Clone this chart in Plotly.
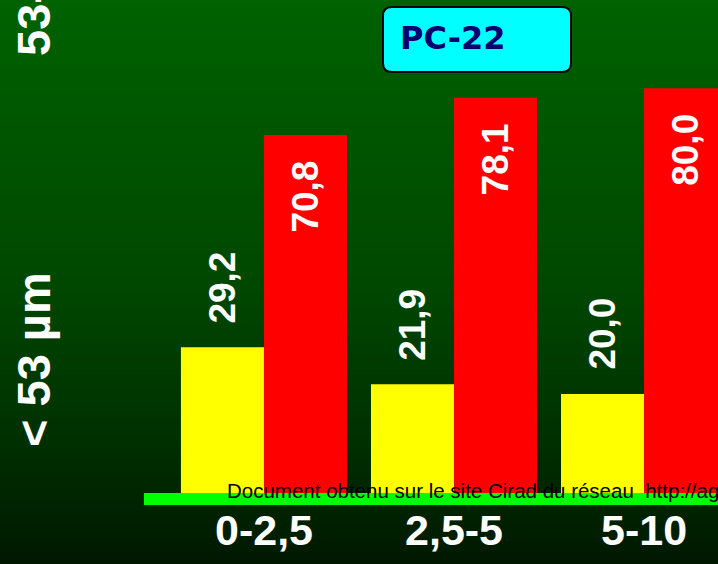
import plotly.graph_objects as go

# Particle-size classes (depth ranges) and fraction shares (%)
categories = ["0-2,5", "2,5-5", "5-10"]
fine_fraction = [29.2, 21.9, 20.0]      # < 53 µm
coarse_fraction = [70.8, 78.1, 80.0]    # 53-2000 µm
value_labels_fine = ["29,2", "21,9", "20,0"]
value_labels_coarse = ["70,8", "78,1", "80,0"]

W, H = 718, 564
BOTTOM = 68                     # space under the plotting area for category labels
X_RANGE = [-1.389, 2.389]
Y_RANGE = [0, 97.3]
BARGAP = 0.126
FONT = "Liberation Sans, Arial, sans-serif"


def px(x):
    return x / W


def py(y):
    return 1 - y / H


fig = go.Figure()
fig.add_trace(go.Bar(x=categories, y=fine_fraction, name="< 53 µm",
                     marker=dict(color="#ffff00", line=dict(width=0))))
fig.add_trace(go.Bar(x=categories, y=coarse_fraction, name="53-2000 µm",
                     marker=dict(color="#ff0000", line=dict(width=0))))

shapes = []

# vertical green gradient background, built from thin bands
stops = [(0, (0, 98, 0)), (280, (0, 72, 0)), (450, (0, 46, 0)), (564, (0, 24, 0))]


def bg_color(y):
    for (y0, c0), (y1, c1) in zip(stops[:-1], stops[1:]):
        if y0 <= y <= y1:
            t = (y - y0) / (y1 - y0)
            return "rgb(%d,%d,%d)" % tuple(round(a + (b - a) * t) for a, b in zip(c0, c1))
    return "rgb(%d,%d,%d)" % stops[-1][1]


band = 3
for y in range(0, H, band):
    shapes.append(dict(type="rect", xref="paper", yref="paper", layer="below",
                       x0=0, x1=1, y0=py(y + band + 0.5), y1=py(y),
                       fillcolor=bg_color(y + band / 2), line=dict(width=0)))

# bright green base line
shapes.append(dict(type="rect", xref="paper", yref="paper", layer="above",
                   x0=px(144), x1=1, y0=py(505), y1=py(493),
                   fillcolor="#00ff00", line=dict(width=0)))

# rounded title box
bx0, bx1, by0, by1, r = 383, 571, 7, 72, 9
path = (f"M {px(bx0 + r)},{py(by0)} L {px(bx1 - r)},{py(by0)} "
        f"Q {px(bx1)},{py(by0)} {px(bx1)},{py(by0 + r)} "
        f"L {px(bx1)},{py(by1 - r)} Q {px(bx1)},{py(by1)} {px(bx1 - r)},{py(by1)} "
        f"L {px(bx0 + r)},{py(by1)} Q {px(bx0)},{py(by1)} {px(bx0)},{py(by1 - r)} "
        f"L {px(bx0)},{py(by0 + r)} Q {px(bx0)},{py(by0)} {px(bx0 + r)},{py(by0)} Z")
shapes.append(dict(type="path", xref="paper", yref="paper", layer="above", path=path,
                   fillcolor="#00ffff", line=dict(color="black", width=2)))

annotations = []

# value labels, rotated, above the yellow bars and inside the top of the red bars
px_per_unit = W / (X_RANGE[1] - X_RANGE[0])
half_bar = (1 - BARGAP) / 2 / 2 * px_per_unit
for cat, v, lab in zip(categories, fine_fraction, value_labels_fine):
    annotations.append(dict(x=cat, y=v, xref="x", yref="y", text=f"<b>{lab}</b>",
                            showarrow=False, textangle=-90, xshift=-half_bar,
                            xanchor="center", yanchor="bottom", yshift=22,
                            font=dict(family=FONT, size=37, color="white")))
for cat, v, lab in zip(categories, coarse_fraction, value_labels_coarse):
    annotations.append(dict(x=cat, y=v, xref="x", yref="y", text=f"<b>{lab}</b>",
                            showarrow=False, textangle=-90, xshift=half_bar,
                            xanchor="center", yanchor="top", yshift=-24,
                            font=dict(family=FONT, size=37, color="white")))

# side labels for the two size fractions
annotations.append(dict(x=px(33), y=py(360), xref="paper", yref="paper",
                        text="<b>< 53 µm</b>", showarrow=False, textangle=-90,
                        xanchor="center", yanchor="middle",
                        font=dict(family=FONT, size=47, color="white")))
annotations.append(dict(x=px(33), y=py(58), xref="paper", yref="paper",
                        text="<b>53-2000 µm</b>", showarrow=False, textangle=-90,
                        xanchor="center", yanchor="bottom",
                        font=dict(family=FONT, size=47, color="white")))

# title tag
annotations.append(dict(x=px(398), y=py(38), xref="paper", yref="paper",
                        text="<b>PC-22</b>", showarrow=False,
                        xanchor="left", yanchor="middle",
                        font=dict(family="Comic Sans MS, DejaVu Sans", size=32,
                                  color="#000070", weight="bold")))

# source note
annotations.append(dict(x=px(225), y=py(490), xref="paper", yref="paper",
                        text="Document obtenu sur le site Cirad du réseau  http://agroecologie.cirad.fr",
                        showarrow=False, xanchor="left", yanchor="middle",
                        font=dict(family=FONT, size=20.5, color="black")))

fig.update_layout(
    width=W, height=H,
    margin=dict(l=0, r=0, t=0, b=0),
    paper_bgcolor="#001800",
    plot_bgcolor="rgba(0,0,0,0)",
    barmode="group", bargap=BARGAP, bargroupgap=0,
    showlegend=False,
    shapes=shapes,
    annotations=annotations,
    xaxis=dict(domain=[0, 1], range=X_RANGE, showgrid=False, zeroline=False,
               showline=False, ticks="", ticklabelstandoff=5,
               tickfont=dict(family=FONT, size=43, color="white", weight="bold")),
    yaxis=dict(domain=[BOTTOM / H, 1], range=Y_RANGE, visible=False,
               showgrid=False, zeroline=False),
)

fig.write_html("out.html")
